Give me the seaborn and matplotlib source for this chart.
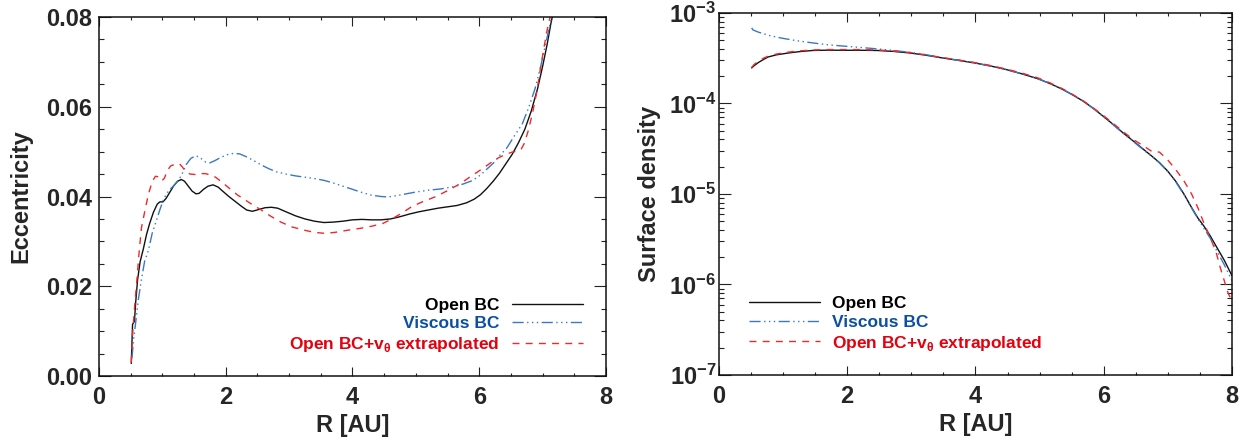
import matplotlib
matplotlib.use("Agg")
import matplotlib.pyplot as plt
import seaborn as sns
from matplotlib.ticker import MultipleLocator, LogLocator, FormatStrFormatter, NullFormatter

# ---------------------------------------------------------------- data
# Eccentricity profiles (left panel)
r_ecc_open = [0.51, 0.53, 0.56, 0.58, 0.61, 0.65, 0.70, 0.75, 0.80, 0.86, 0.92, 0.96,
              1.01, 1.06, 1.12, 1.18, 1.24, 1.30, 1.35, 1.41, 1.47, 1.53, 1.58, 1.65,
              1.72, 1.80, 1.88, 1.96, 2.05, 2.15, 2.25, 2.33, 2.42, 2.52, 2.62, 2.72,
              2.82, 2.95, 3.10, 3.25, 3.40, 3.55, 3.70, 3.85, 4.00, 4.15, 4.30, 4.45,
              4.60, 4.75, 4.90, 5.05, 5.20, 5.35, 5.50, 5.65, 5.80, 5.92, 6.02, 6.12,
              6.22, 6.32, 6.42, 6.52, 6.62, 6.72, 6.82, 6.92, 7.00, 7.07, 7.13, 7.16]
ecc_open = [0.0028, 0.0115, 0.0122, 0.0165, 0.0215, 0.0255, 0.0283, 0.0315, 0.0340,
            0.0365, 0.0383, 0.0388, 0.0388, 0.0396, 0.0410, 0.0424, 0.0434, 0.0438,
            0.0434, 0.0423, 0.0412, 0.0406, 0.0407, 0.0416, 0.0423, 0.0426, 0.0421,
            0.0411, 0.0400, 0.0389, 0.0378, 0.0370, 0.0367, 0.0371, 0.0375, 0.0376,
            0.0374, 0.0366, 0.0357, 0.0350, 0.0345, 0.0342, 0.0343, 0.0345, 0.0348,
            0.0349, 0.0348, 0.0348, 0.0350, 0.0355, 0.0361, 0.0366, 0.0370, 0.0374,
            0.0377, 0.0380, 0.0386, 0.0394, 0.0404, 0.0418, 0.0434, 0.0452, 0.0473,
            0.0494, 0.0520, 0.0550, 0.0590, 0.0640, 0.0690, 0.0738, 0.0785, 0.0805]

r_ecc_visc = [0.52, 0.55, 0.58, 0.62, 0.67, 0.72, 0.78, 0.84, 0.91, 0.96, 1.01, 1.06,
              1.12, 1.18, 1.25, 1.31, 1.38, 1.45, 1.53, 1.60, 1.68, 1.75, 1.83, 1.92,
              2.02, 2.12, 2.22, 2.32, 2.43, 2.55, 2.68, 2.80, 2.95, 3.10, 3.25, 3.40,
              3.55, 3.70, 3.85, 4.00, 4.15, 4.30, 4.45, 4.56, 4.70, 4.85, 5.00, 5.20,
              5.40, 5.60, 5.75, 5.90, 6.02, 6.12, 6.22, 6.32, 6.43, 6.55, 6.68, 6.78,
              6.88, 6.97, 7.05, 7.11, 7.15]
ecc_visc = [0.0040, 0.0085, 0.0120, 0.0169, 0.0215, 0.0255, 0.0280, 0.0318, 0.0348,
            0.0370, 0.0390, 0.0405, 0.0416, 0.0424, 0.0435, 0.0450, 0.0472, 0.0485,
            0.0491, 0.0486, 0.0477, 0.0475, 0.0480, 0.0487, 0.0493, 0.0496, 0.0495,
            0.0489, 0.0481, 0.0471, 0.0462, 0.0455, 0.0450, 0.0446, 0.0443, 0.0440,
            0.0436, 0.0430, 0.0423, 0.0416, 0.0409, 0.0403, 0.0400, 0.0399, 0.0402,
            0.0406, 0.0410, 0.0414, 0.0417, 0.0422, 0.0428, 0.0436, 0.0448, 0.0461,
            0.0474, 0.0491, 0.0507, 0.0534, 0.0562, 0.0598, 0.0640, 0.0690, 0.0741,
            0.0780, 0.0805]

r_ecc_vext = [0.51, 0.53, 0.56, 0.59, 0.63, 0.67, 0.72, 0.78, 0.84, 0.89, 0.94, 0.99,
              1.03, 1.08, 1.13, 1.20, 1.27, 1.32, 1.37, 1.44, 1.52, 1.60, 1.68, 1.76,
              1.84, 1.94, 2.06, 2.18, 2.31, 2.43, 2.56, 2.70, 2.87, 3.05, 3.24, 3.40,
              3.56, 3.72, 3.93, 4.12, 4.31, 4.48, 4.62, 4.78, 4.93, 5.10, 5.30, 5.50,
              5.68, 5.86, 6.05, 6.20, 6.30, 6.42, 6.52, 6.60, 6.66, 6.71, 6.77, 6.84,
              6.91, 6.97, 7.02, 7.06, 7.10, 7.13]
ecc_vext = [0.0030, 0.0090, 0.0150, 0.0199, 0.0270, 0.0330, 0.0365, 0.0405, 0.0433,
            0.0445, 0.0444, 0.0435, 0.0440, 0.0458, 0.0468, 0.0472, 0.0473, 0.0465,
            0.0455, 0.0450, 0.0449, 0.0451, 0.0451, 0.0448, 0.0443, 0.0432, 0.0418,
            0.0404, 0.0392, 0.0381, 0.0370, 0.0357, 0.0343, 0.0332, 0.0325, 0.0320,
            0.0318, 0.0320, 0.0325, 0.0329, 0.0334, 0.0340, 0.0350, 0.0363, 0.0377,
            0.0388, 0.0399, 0.0413, 0.0427, 0.0444, 0.0462, 0.0477, 0.0486, 0.0494,
            0.0499, 0.0501, 0.0505, 0.0518, 0.0545, 0.0585, 0.0635, 0.0689, 0.0730,
            0.0763, 0.0790, 0.0805]

# Surface density profiles (right panel)
r_sig_open = [0.51, 0.55, 0.62, 0.70, 0.77, 0.90, 1.09, 1.27, 1.46, 1.70, 1.97, 2.22,
              2.47, 2.72, 2.97, 3.22, 3.48, 3.73, 3.98, 4.23, 4.48, 4.73, 4.98, 5.17,
              5.36, 5.52, 5.68, 5.84, 5.99, 6.15, 6.30, 6.46, 6.62, 6.75, 6.87, 7.00,
              7.12, 7.25, 7.37, 7.47, 7.56, 7.66, 7.75, 7.88, 8.00]
sig_open = [2.47e-4, 2.62e-4, 2.85e-4, 3.08e-4, 3.27e-4, 3.45e-4, 3.62e-4, 3.75e-4,
            3.85e-4, 3.88e-4, 3.87e-4, 3.87e-4, 3.85e-4, 3.76e-4, 3.62e-4, 3.42e-4,
            3.19e-4, 3.00e-4, 2.81e-4, 2.60e-4, 2.37e-4, 2.12e-4, 1.87e-4, 1.65e-4,
            1.43e-4, 1.24e-4, 1.06e-4, 8.8e-5, 7.24e-5, 5.85e-5, 4.74e-5, 3.85e-5,
            3.11e-5, 2.62e-5, 2.22e-5, 1.78e-5, 1.39e-5, 1.00e-5, 7.08e-6, 5.40e-6,
            4.44e-6, 3.45e-6, 2.67e-6, 1.85e-6, 1.25e-6]

r_sig_visc = [0.51, 0.53, 0.62, 0.80, 0.96, 1.20, 1.46, 1.70, 1.97, 2.22, 2.47, 2.72,
              2.97, 3.22, 3.48, 3.73, 3.98, 4.23, 4.48, 4.73, 4.98, 5.17, 5.36, 5.52,
              5.68, 5.84, 5.99, 6.15, 6.30, 6.46, 6.62, 6.75, 6.87, 7.00, 7.12, 7.25,
              7.37, 7.47, 7.56, 7.66, 7.75, 7.88, 8.00]
sig_visc = [6.84e-4, 6.50e-4, 6.12e-4, 5.60e-4, 5.30e-4, 4.95e-4, 4.67e-4, 4.45e-4,
            4.29e-4, 4.15e-4, 4.01e-4, 3.85e-4, 3.68e-4, 3.47e-4, 3.20e-4, 3.00e-4,
            2.81e-4, 2.60e-4, 2.37e-4, 2.12e-4, 1.87e-4, 1.65e-4, 1.43e-4, 1.24e-4,
            1.06e-4, 8.8e-5, 7.20e-5, 5.80e-5, 4.70e-5, 3.80e-5, 3.08e-5, 2.60e-5,
            2.20e-5, 1.76e-5, 1.37e-5, 9.9e-6, 7.0e-6, 5.3e-6, 4.2e-6, 3.25e-6,
            2.45e-6, 1.65e-6, 1.10e-6]

r_sig_vext = [0.51, 0.55, 0.62, 0.70, 0.77, 0.90, 1.09, 1.27, 1.46, 1.70, 1.97, 2.22,
              2.47, 2.72, 2.97, 3.22, 3.48, 3.73, 3.98, 4.23, 4.48, 4.73, 4.98, 5.17,
              5.36, 5.52, 5.68, 5.84, 5.99, 6.15, 6.30, 6.46, 6.62, 6.75, 6.87, 7.00,
              7.12, 7.25, 7.37, 7.47, 7.56, 7.66, 7.75, 7.81, 7.88, 7.94, 8.00]
sig_vext = [2.50e-4, 2.70e-4, 2.95e-4, 3.18e-4, 3.33e-4, 3.52e-4, 3.70e-4, 3.82e-4,
            3.90e-4, 3.94e-4, 3.94e-4, 3.94e-4, 3.90e-4, 3.80e-4, 3.66e-4, 3.45e-4,
            3.22e-4, 3.03e-4, 2.84e-4, 2.63e-4, 2.40e-4, 2.16e-4, 1.91e-4, 1.68e-4,
            1.45e-4, 1.25e-4, 1.07e-4, 8.9e-5, 7.4e-5, 6.0e-5, 4.9e-5, 4.0e-5,
            3.4e-5, 2.95e-5, 2.9e-5, 2.37e-5, 1.87e-5, 1.40e-5, 1.0e-5, 7.0e-6,
            4.8e-6, 3.3e-6, 2.3e-6, 1.6e-6, 1.1e-6, 8.0e-7, 6.6e-7]

labels = ["Open BC", "Viscous BC", r"Open BC+v$_\mathdefault{θ}$ extrapolated"]
x_ticks = [0, 2, 4, 6, 8]

# ---------------------------------------------------------------- style
sns.set_style("ticks")
plt.rcParams["font.family"] = ["Liberation Sans", "DejaVu Sans"]
plt.rcParams["font.weight"] = "bold"
plt.rcParams["axes.labelweight"] = "bold"

line_colors = ["#111111", "#3b78c4", "#ee2a2a"]
text_colors = ["#000000", "#0b4fa3", "#e3000f"]
styles = ["-", (0, (8, 2.5, 1, 2.5, 1, 2.5, 1, 2.5)), (0, (5, 4.5))]

fig = plt.figure(figsize=(12.51, 4.41), dpi=100)
ax1 = fig.add_axes([0.0791, 0.1474, 0.4053, 0.814])
ax2 = fig.add_axes([0.5747, 0.1497, 0.4101, 0.8209])

series_left = [(r_ecc_open, ecc_open), (r_ecc_visc, ecc_visc), (r_ecc_vext, ecc_vext)]
series_right = [(r_sig_open, sig_open), (r_sig_visc, sig_visc), (r_sig_vext, sig_vext)]

for ax, series in ((ax1, series_left), (ax2, series_right)):
    for (xs, ys), c, ls, lab in zip(series, line_colors, styles, labels):
        sns.lineplot(x=xs, y=ys, ax=ax, color=c, linestyle=ls, linewidth=1.0,
                     sort=False, estimator=None, label=lab, legend=False)

# ---------------------------------------------------------------- axes
ax1.set_xlim(0, 8)
ax1.set_ylim(0, 0.08)
ax1.yaxis.set_major_locator(MultipleLocator(0.02))
ax1.yaxis.set_minor_locator(MultipleLocator(0.005))
ax1.yaxis.set_major_formatter(FormatStrFormatter("%.2f"))

ax2.set_xlim(0, 8)
ax2.set_yscale("log")
ax2.set_ylim(1e-7, 1e-3)
ax2.yaxis.set_major_locator(LogLocator(base=10, numticks=10))
ax2.yaxis.set_minor_locator(LogLocator(base=10, subs=range(2, 10), numticks=20))
ax2.yaxis.set_minor_formatter(NullFormatter())

for ax in (ax1, ax2):
    ax.set_xticks(x_ticks)
    ax.xaxis.set_minor_locator(MultipleLocator(0.5))
    ax.xaxis.set_major_formatter(FormatStrFormatter("%d"))
    ax.tick_params(which="both", direction="in", top=True, right=True,
                   width=0.8, color="#222222", labelsize=17)
    ax.tick_params(axis="x", which="major", length=6.5, pad=7)
    ax.tick_params(axis="x", which="minor", length=2.5)
    ax.tick_params(axis="y", which="major", length=8.5)
    ax.tick_params(axis="y", which="minor", length=3.8)
    for sp in ax.spines.values():
        sp.set_linewidth(1.1)
        sp.set_color("#111111")
    ax.set_xlabel("R [AU]", fontsize=17, labelpad=4)

ax1.tick_params(axis="y", which="major", pad=5)
ax2.tick_params(axis="y", which="major", pad=2)
ax1.set_ylabel("Eccentricity", fontsize=17, labelpad=10)
ax2.set_ylabel("Surface density", fontsize=17, labelpad=6)

# ---------------------------------------------------------------- legends
leg1 = ax1.legend(handles=ax1.get_lines(), labels=labels, loc="lower right",
                  bbox_to_anchor=(0.955, 0.062), frameon=False, markerfirst=False,
                  fontsize=12.5, handlelength=4.1, handletextpad=0.75,
                  labelspacing=0.2, borderpad=0, borderaxespad=0)
leg2 = ax2.legend(handles=ax2.get_lines(), labels=labels, loc="lower left",
                  bbox_to_anchor=(0.058, 0.062), frameon=False, markerfirst=True,
                  fontsize=12.5, handlelength=4.1, handletextpad=0.7,
                  labelspacing=0.2, borderpad=0, borderaxespad=0)
for leg in (leg1, leg2):
    for t, c in zip(leg.get_texts(), text_colors):
        t.set_color(c)

fig.savefig("out.png", dpi=100)
